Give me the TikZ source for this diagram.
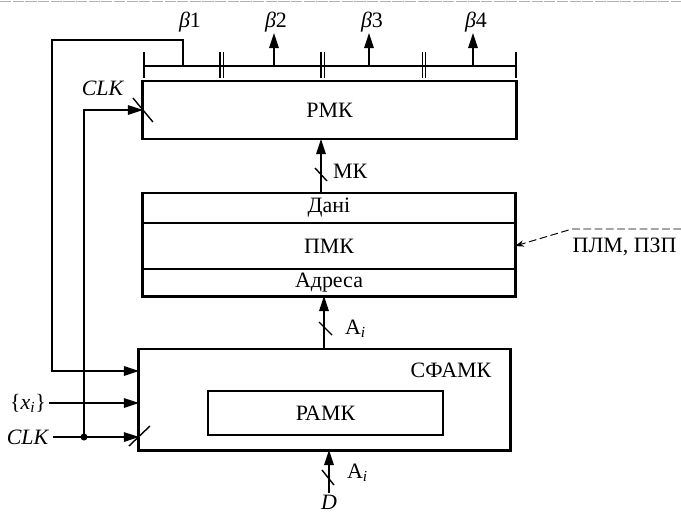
\documentclass[tikz,border=0pt]{standalone}
\usepackage{fontspec}
\setmainfont{Liberation Serif}
\usetikzlibrary{arrows.meta,positioning}

\begin{document}
\begin{tikzpicture}[x=0.025cm, y=-0.025cm, line width=1pt, font=\fontsize{15.6}{18}\selectfont]
	% Стилі для блоків і стрілок
	\tikzset{
		blok/.style={draw, line width=2.1pt, inner sep=0pt, outer sep=0pt},
		komirka/.style={draw, line width=1pt, minimum width=9.3cm, inner sep=0pt, outer sep=0pt},
		strilka/.style={-{Triangle[length=0.38cm, width=0.24cm]}},
		pidpys/.style={anchor=west, inner sep=1pt}
	}
	\useasboundingbox (0,0) rectangle (681,514);
	\draw[gray!60, line width=0.6pt, dash pattern=on 8pt off 1pt] (0,1) -- (681,1);
	
	% Блоки
	\node[blok, minimum width=9.325cm, minimum height=1.45cm] (rmk) at (329.5,110) {РМК};
	\node[komirka, minimum height=0.75cm] (dani) at (329,208) {Дані};
	\node[komirka, minimum height=1.15cm, below=0pt of dani] (pmk) {ПМК};
	\node[komirka, minimum height=0.675cm, below=0pt of pmk] (adresa) {Адреса};
	\draw[line width=2.1pt] (dani.north west) rectangle (adresa.south east);
	\node[blok, minimum width=9.275cm, minimum height=2.525cm] (sfamk) at (324.5,399.5) {};
	\node[anchor=west, inner sep=0pt] (sfamkl) at (410,370) {СФАМК};
	\node[draw, line width=1pt, minimum width=5.875cm, minimum height=1.1cm] (ramk) at (325.5,413) {РАМК};
	
	% Шина мікрокоманди
	\draw (144,66) -- (516,66);
	\foreach \x in {144,516} \draw (\x,52) -- (\x,78);
	\foreach \x in {221.5,322.5,424} {
		\draw (\x-1.7,52) -- (\x-1.7,78);
		\draw (\x+1.7,52) -- (\x+1.7,78);
	}
	\node[anchor=south, inner sep=0pt] (b1) at (190,33) {\textit{β}1};
	\node[anchor=south, inner sep=0pt] (b2) at (276,33) {\textit{β}2};
	\node[anchor=south, inner sep=0pt] (b3) at (372,33) {\textit{β}3};
	\node[anchor=south, inner sep=0pt] (b4) at (476,33) {\textit{β}4};
	\coordinate (w1) at (183,66);
	\coordinate (w2) at (274,66);
	\coordinate (w3) at (369,66);
	\coordinate (w4) at (473,66);
	\draw[strilka] (w2) -- (w2 |- b2.south);
	\draw[strilka] (w3) -- (w3 |- b3.south);
	\draw[strilka] (w4) -- (w4 |- b4.south);
	
	% Зворотний зв'язок β1
	\coordinate (zv) at (52,40);
	\coordinate (vh1) at (139,371);
	\draw[strilka] (w1) |- (zv) |- (vh1);
	
	% Входи СФАМК
	\node[inner sep=2pt] (xi) at (28,403) {\{\textit{x}\textsubscript{\textit{i}}\}};
	\node[inner sep=2pt] (clk2) at (28,437) {\textit{CLK}};
	\coordinate (vh3) at (clk2.east -| sfamk.west);
	\draw[strilka] (xi.east) -- (xi.east -| sfamk.west);
	\draw[strilka] (clk2.east) -- (vh3);
	\draw ([shift={(-10,9)}]vh3) -- ([shift={(11,-11)}]vh3);
	
	% Тактування РМК
	\coordinate (t) at (84,437);
	\fill (t) circle[radius=3.5];
	\node (clk1) at (103,88) {\textit{CLK}};
	\draw[strilka] (t) |- (rmk.west);
	\draw ([shift={(-10,-12)}]rmk.west) -- ([shift={(10,12)}]rmk.west);
	
	% МК
	\coordinate (mk) at (321,193);
	\draw[strilka] (mk) -- (mk |- rmk.south);
	\draw (315,168) -- (327,181);
	\node[pidpys] (mkl) at (331,171) {МК};
	
	% Адреса
	\coordinate (ai) at (324,349);
	\draw[strilka] (ai) -- (ai |- adresa.south);
	\draw (319,322) -- (332,335);
	\node[pidpys] (ail) at (343,329) {А\textsubscript{\textit{i}}};
	
	% Вхід D
	\node[inner sep=1pt] (d) at (329,502) {\textit{D}};
	\draw[strilka] (d.north) -- (d.north |- sfamk.south);
	\draw (322,470) -- (334,485);
	\node[pidpys] (dl) at (345,473) {А\textsubscript{\textit{i}}};
	
	% ПЛМ, ПЗП
	\node[anchor=west, inner sep=0pt] (plm) at (572,247) {ПЛМ, ПЗП};
	\coordinate (pk) at (681,229);
	\coordinate (pz) at (572,229);
	\draw[line width=0.7pt, dash pattern=on 5.5pt off 2.5pt, -{Stealth[length=0.22cm, width=0.16cm]}] (pk) -- (pz) -- (pmk.east);
\end{tikzpicture}
\end{document}
